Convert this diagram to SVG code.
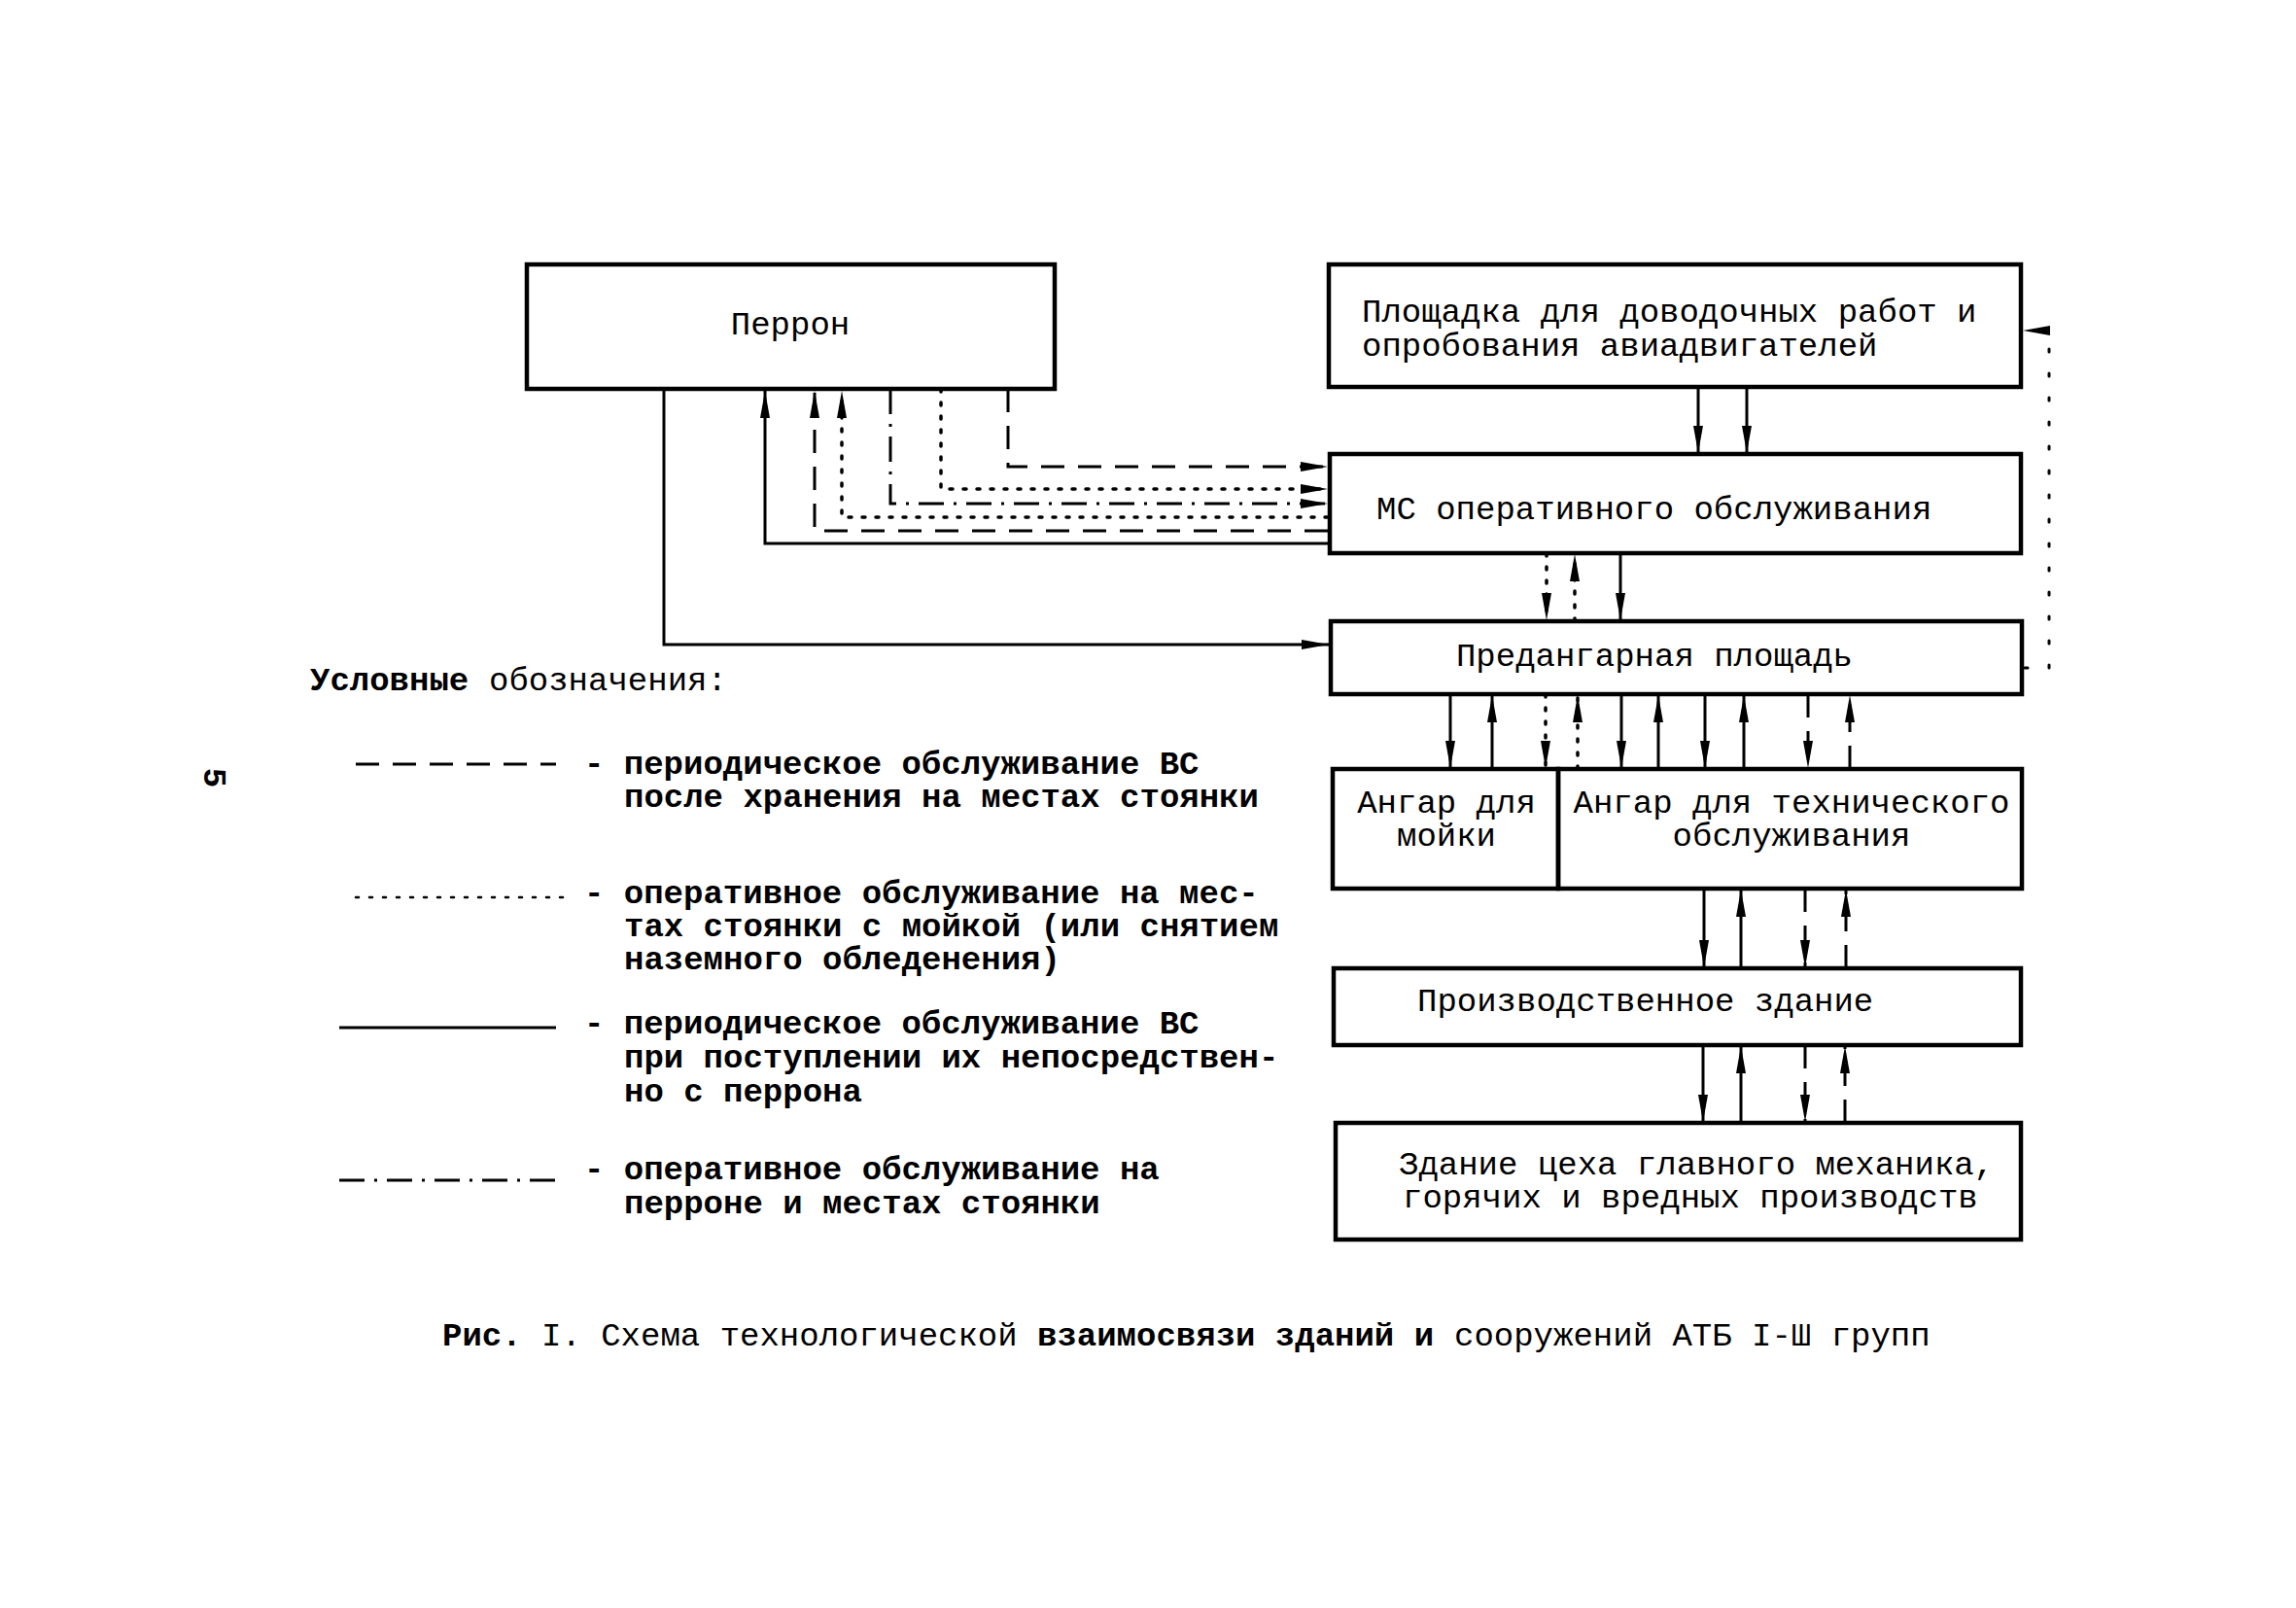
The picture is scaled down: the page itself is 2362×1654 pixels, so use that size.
<svg xmlns="http://www.w3.org/2000/svg" width="2362" height="1654" viewBox="0 0 2362 1654">
<style>
.box{fill:none;stroke:#000;stroke-width:4.5}
.t{font-family:"Liberation Mono","DejaVu Sans Mono",monospace;font-size:34px;fill:#000}
.b{font-weight:bold}
.c{fill:none;stroke:#000;stroke-width:3}
.dash{stroke-dasharray:24 14}
.dot{stroke-dasharray:3 11;stroke-linecap:round;stroke-width:3.5}
.dd{stroke-dasharray:26 10 3 10}
.sp{stroke-dasharray:3 22;stroke-linecap:round}
</style>
<defs>
<marker id="ah" markerWidth="30" markerHeight="14" refX="28" refY="7" orient="auto" markerUnits="userSpaceOnUse">
<path d="M0,2 L28,7 L0,12 z" fill="#000"/>
</marker>
</defs>
<rect width="2362" height="1654" fill="#fff"/>

<g id="perron"><rect class="box" x="542" y="272" width="543" height="128"/><text class="t" x="813" y="344" text-anchor="middle">Перрон</text></g>
<g id="ploshchadka"><rect class="box" x="1367" y="272" width="712" height="126"/><text class="t" x="1401" y="331">Площадка для доводочных работ и</text><text class="t" x="1401" y="366">опробования авиадвигателей</text></g>
<g id="ms"><rect class="box" x="1368" y="467" width="711" height="102"/><text class="t" x="1416" y="534">МС оперативного обслуживания</text></g>
<g id="predangar"><rect class="box" x="1369" y="639" width="711" height="75"/><text class="t" x="1702" y="685" text-anchor="middle">Предангарная площадь</text></g>
<g id="angar-moyka"><rect class="box" x="1371" y="791" width="232" height="123"/><text class="t" x="1488" y="836" text-anchor="middle">Ангар для</text><text class="t" x="1488" y="870" text-anchor="middle">мойки</text></g>
<g id="angar-to"><rect class="box" x="1603" y="791" width="477" height="123"/><text class="t" x="1843" y="836" text-anchor="middle">Ангар для технического</text><text class="t" x="1843" y="870" text-anchor="middle">обслуживания</text></g>
<g id="proizv"><rect class="box" x="1372" y="996" width="707" height="79"/><text class="t" x="1458" y="1040">Производственное здание</text></g>
<g id="mekhanik"><rect class="box" x="1374" y="1155" width="705" height="120"/><text class="t" x="1439" y="1208">Здание цеха главного механика,</text><text class="t" x="1443" y="1242">горячих и вредных производств</text></g>

<g id="connectors">
<path class="c" d="M683,400 V663 H1367" marker-end="url(#ah)"/>
<path class="c" d="M1366,559 H787 V402" marker-end="url(#ah)"/>
<path class="c dash" d="M1366,546 H838 V402" marker-end="url(#ah)"/>
<path class="c dot" d="M1366,532 H866 V402" marker-end="url(#ah)"/>
<path class="c dd" d="M916,400 V518 H1366" marker-end="url(#ah)"/>
<path class="c dot" d="M968,400 V503 H1366" marker-end="url(#ah)"/>
<path class="c dash" d="M1037,400 V480 H1366" marker-end="url(#ah)"/>
<path class="c" d="M1747,398 V466" marker-end="url(#ah)"/>
<path class="c" d="M1797,398 V466" marker-end="url(#ah)"/>
<path class="c dot" d="M1591,569 V638" marker-end="url(#ah)"/>
<path class="c dot" d="M1620,639 V570" marker-end="url(#ah)"/>
<path class="c" d="M1667,569 V638" marker-end="url(#ah)"/>
<path class="c" d="M1492,714 V790" marker-end="url(#ah)"/>
<path class="c" d="M1535,791 V715" marker-end="url(#ah)"/>
<path class="c dot" d="M1590,714 V790" marker-end="url(#ah)"/>
<path class="c dot" d="M1623,791 V715" marker-end="url(#ah)"/>
<path class="c" d="M1668,714 V790" marker-end="url(#ah)"/>
<path class="c" d="M1706,791 V715" marker-end="url(#ah)"/>
<path class="c" d="M1754,714 V790" marker-end="url(#ah)"/>
<path class="c" d="M1794,791 V715" marker-end="url(#ah)"/>
<path class="c dash" d="M1860,714 V790" marker-end="url(#ah)"/>
<path class="c dash" d="M1903,791 V715" marker-end="url(#ah)"/>
<path class="c" d="M1753,914 V995" marker-end="url(#ah)"/>
<path class="c" d="M1791,996 V915" marker-end="url(#ah)"/>
<path class="c dash" d="M1857,914 V995" marker-end="url(#ah)"/>
<path class="c dash" d="M1899,996 V915" marker-end="url(#ah)"/>
<path class="c" d="M1752,1075 V1154" marker-end="url(#ah)"/>
<path class="c" d="M1791,1155 V1076" marker-end="url(#ah)"/>
<path class="c dash" d="M1857,1075 V1154" marker-end="url(#ah)"/>
<path class="c dash" d="M1898,1155 V1076" marker-end="url(#ah)"/>
<path class="c sp" d="M2083,687 H2108 V340 H2081" marker-end="url(#ah)"/>
</g>

<g id="legend">
<text class="t b" x="319" y="710">Условные</text>
<text class="t" x="503" y="710">обозначения:</text>
<line class="c dash" x1="366" y1="786" x2="572" y2="786"/>
<text class="t b" x="601" y="796">- периодическое обслуживание ВС</text>
<text class="t b" x="642" y="830">после хранения на местах стоянки</text>
<line class="c dot" x1="366" y1="923" x2="580" y2="923" style="stroke-width:2.5"/>
<text class="t b" x="601" y="929">- оперативное обслуживание на мес-</text>
<text class="t b" x="642" y="963">тах стоянки с мойкой (или снятием</text>
<text class="t b" x="642" y="997">наземного обледенения)</text>
<line class="c" x1="349" y1="1057" x2="572" y2="1057"/>
<text class="t b" x="601" y="1063">- периодическое обслуживание ВС</text>
<text class="t b" x="642" y="1098">при поступлении их непосредствен-</text>
<text class="t b" x="642" y="1133">но с перрона</text>
<line class="c dd" x1="349" y1="1214" x2="572" y2="1214"/>
<text class="t b" x="601" y="1213">- оперативное обслуживание на</text>
<text class="t b" x="642" y="1248">перроне и местах стоянки</text>
</g>

<text class="t b" x="0" y="0" font-size="40" transform="translate(210,800) rotate(90)" text-anchor="middle">5</text>
<text class="t b" x="455" y="1384">Рис.</text>
<text class="t" x="557" y="1384">I. Схема технологической</text>
<text class="t b" x="1067" y="1384">взаимосвязи зданий и</text>
<text class="t" x="1496" y="1384">сооружений АТБ I-Ш групп</text>
</svg>
